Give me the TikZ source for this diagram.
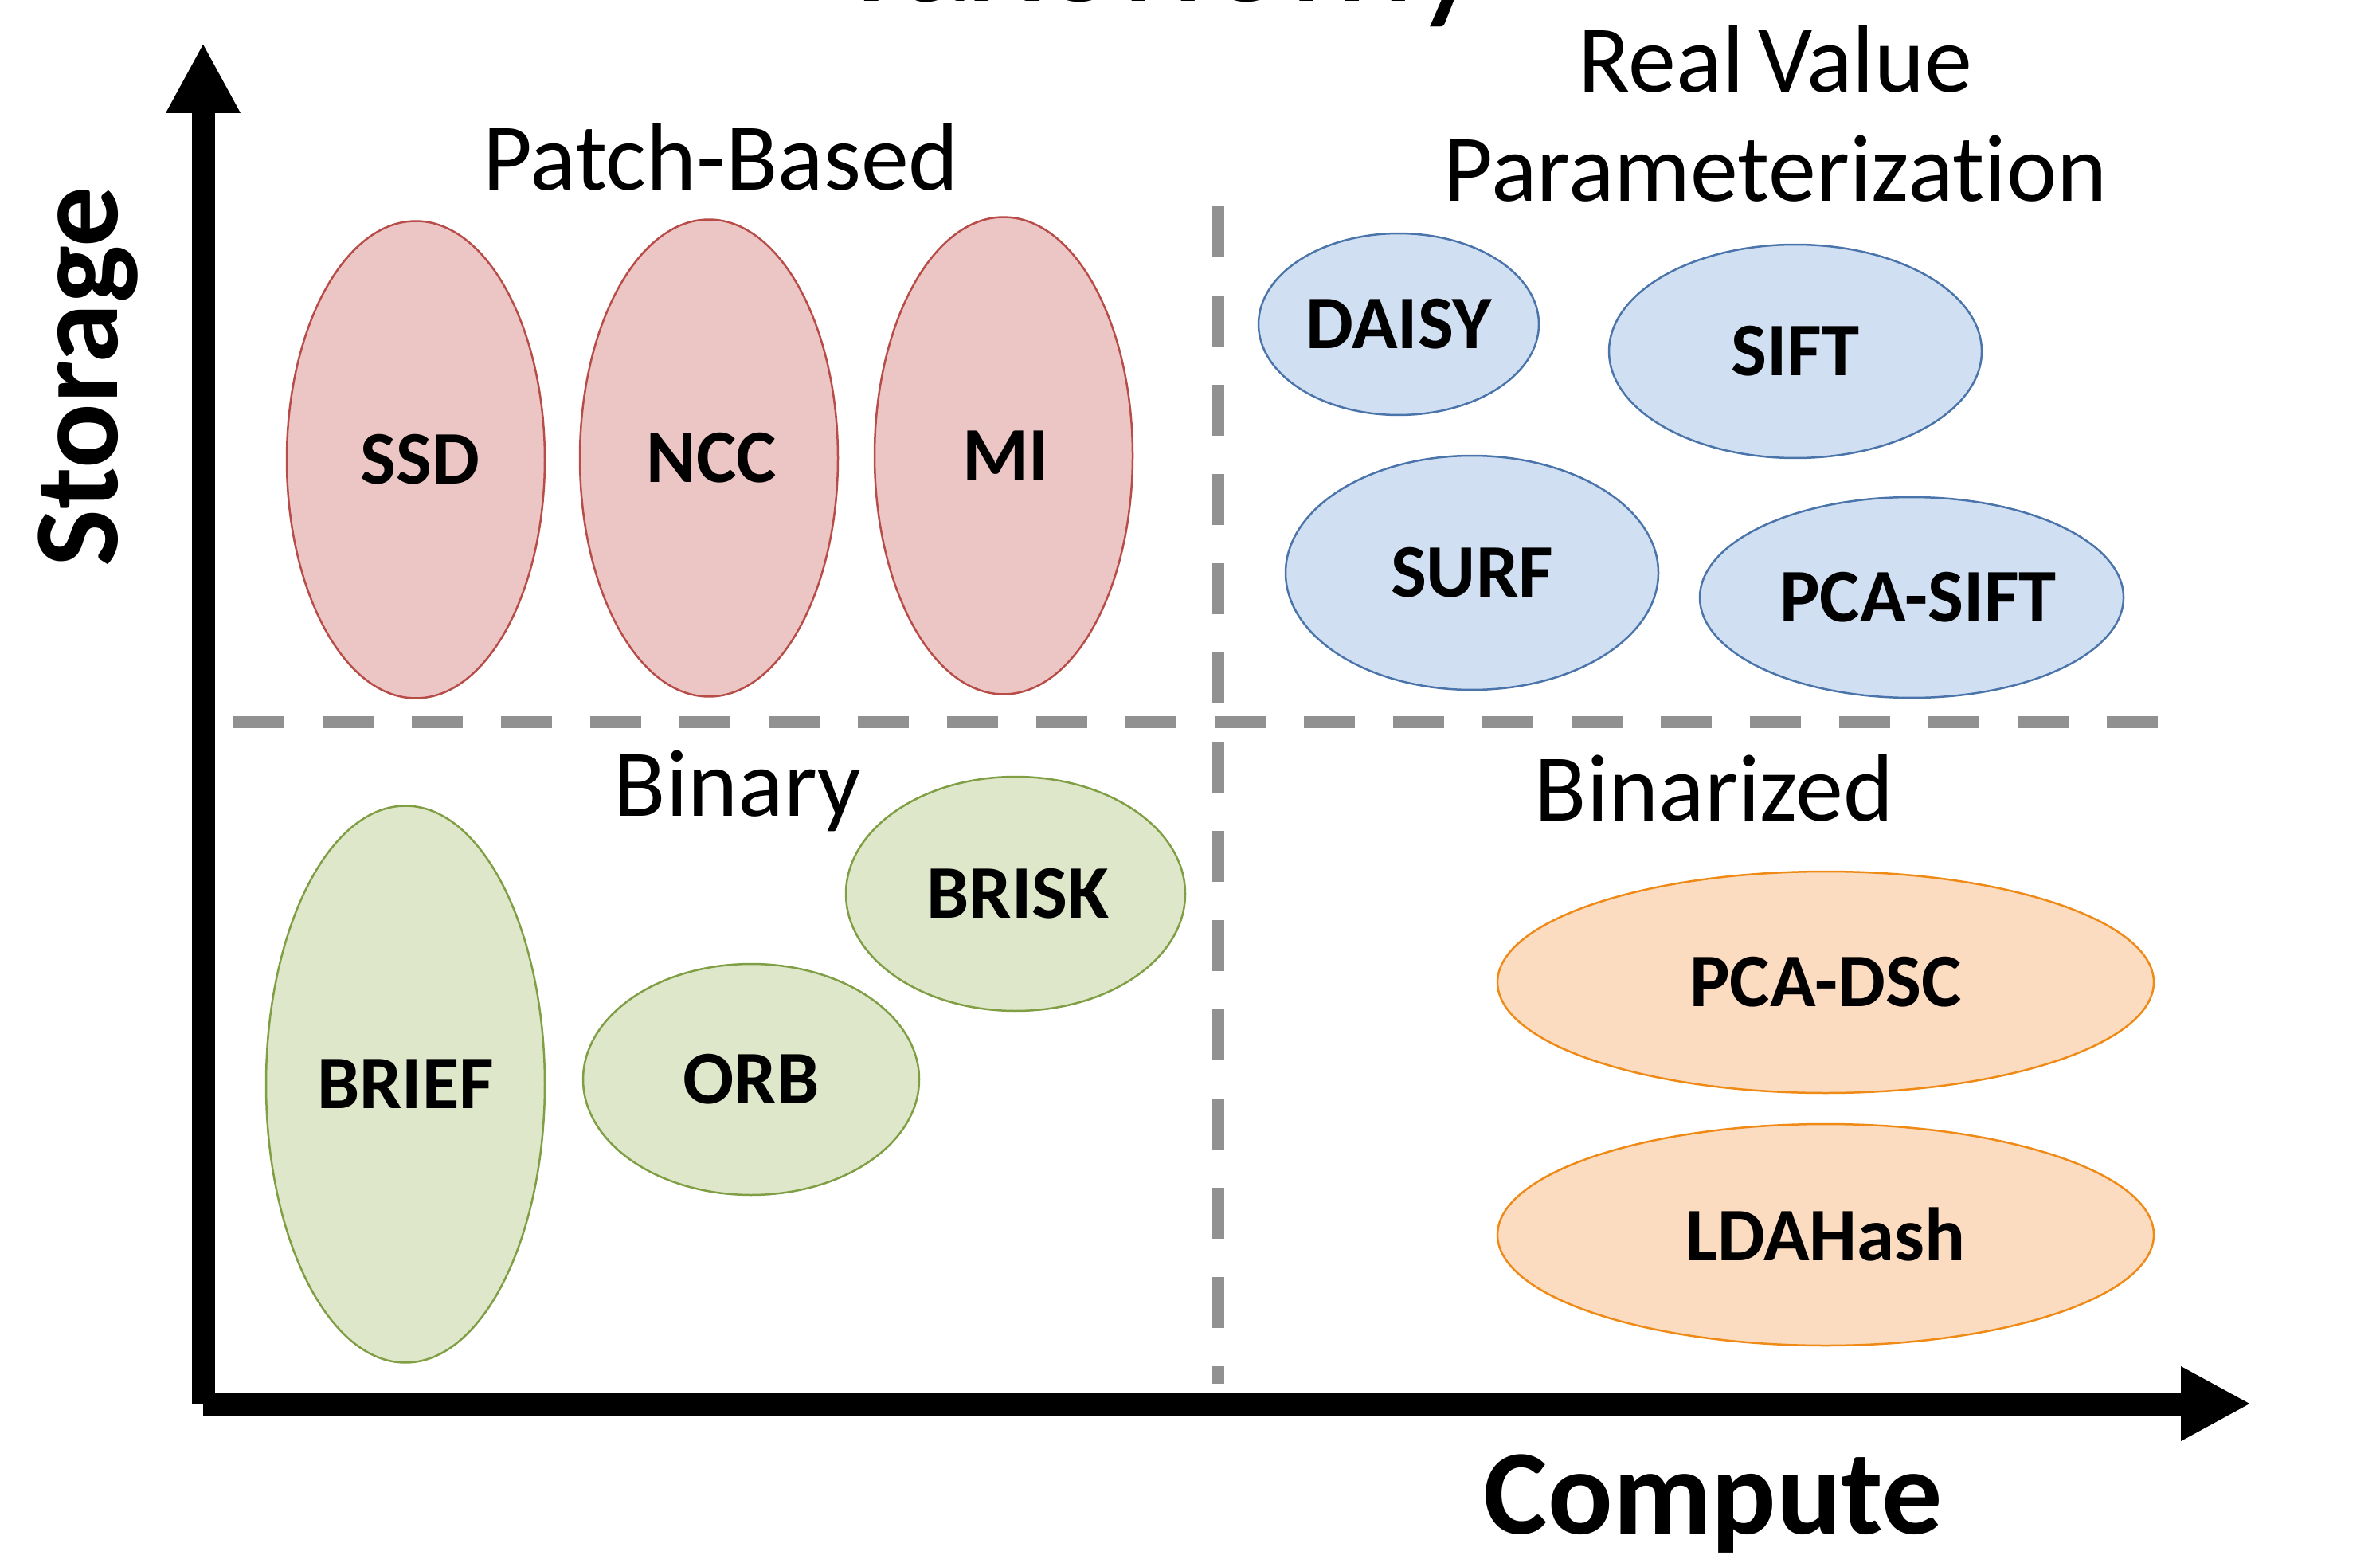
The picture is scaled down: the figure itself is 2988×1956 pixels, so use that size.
\documentclass[tikz,border=0pt]{standalone}
\usepackage{fontspec}
\setmainfont[Ligatures=NoCommon]{Carlito}
\usetikzlibrary{shapes.geometric,arrows.meta}

\definecolor{pinkfill}{RGB}{236,198,197}
\definecolor{pinkline}{RGB}{184,76,72}
\definecolor{bluefill}{RGB}{208,224,242}
\definecolor{blueline}{RGB}{74,116,170}
\definecolor{greenfill}{RGB}{222,231,201}
\definecolor{greenline}{RGB}{128,158,68}
\definecolor{orangefill}{RGB}{251,220,193}
\definecolor{orangeline}{RGB}{240,138,22}
\definecolor{divgray}{RGB}{145,145,145}

\begin{document}
\begin{tikzpicture}[x=0.1pt,y=-0.1pt,
  blob/.style={ellipse, inner sep=0pt, line width=0.25pt,
    font=\fontsize{9.5pt}{11pt}\selectfont\bfseries},
  patch/.style={blob, fill=pinkfill, draw=pinkline},
  realval/.style={blob, fill=bluefill, draw=blueline},
  binary/.style={blob, fill=greenfill, draw=greenline},
  binarized/.style={blob, fill=orangefill, draw=orangeline},
  heading/.style={font=\fontsize{12pt}{14pt}\selectfont, anchor=base, inner sep=0pt},
  axislabel/.style={font=\fontsize{15.2pt}{18pt}\selectfont\bfseries, anchor=base, inner sep=0pt},
  axis/.style={line width=2.9pt, -{Triangle[width=8.7pt,length=8.8pt]}},
  axisshadow/.style={axis, draw=black, opacity=0.18},
  divider/.style={draw=divgray, line width=1.55pt, dash pattern=on 6.4pt off 4.8pt}]

\useasboundingbox (0,0) rectangle (2988,1956);
\clip (0,0) rectangle (2988,1956);

% title, mostly above the page edge
\node[font=\fontsize{20pt}{24pt}\selectfont, anchor=base, inner sep=0pt] (title) at (1455,2) {Taxonomy};

% quadrant dividers
\coordinate (hdivL) at (293,906.5);
\coordinate (hdivR) at (2709,906.5);
\coordinate (vdivT) at (1529,259);
\coordinate (vdivB) at (1529,1737);
\draw[divider] (hdivL) -- (hdivR);
\draw[divider] (vdivT) -- (vdivB);

% axes
\coordinate (origin) at (255,1762);
\coordinate (ytip) at (255,54);
\coordinate (xtip) at (2826,1762);
\begin{scope}[shift={(5,6)}]
  \draw[axisshadow] (origin) -- (ytip);
  \draw[axisshadow] (origin) -- (xtip);
\end{scope}
\draw[axis] (origin) -- (ytip);
\draw[axis] (origin) -- (xtip);

\node[axislabel, rotate=90] (storage) at (147,473) {Storage};
\node[axislabel] (compute) at (2151,1925) {Compute};

% quadrant headings
\node[heading] (patchhd) at (905,239) {Patch-Based};
\node[heading] (realhd1) at (2229,116) {Real\hspace{-0.08em} Value};
\node[heading] (realhd2) at (2229,253) {Parameterization};
\node[heading] (binaryhd) at (926,1024) {Binary};
\node[heading] (binzhd) at (2152,1030) {Binarized};

% patch-based descriptors
\node[patch, minimum width=32.4pt, minimum height=59.9pt] (ssd) at (522,577) {\hspace{1pt}SSD};
\node[patch, minimum width=32.4pt, minimum height=59.9pt] (ncc) at (890,575) {\hspace{0.6pt}NCC};
\node[patch, minimum width=32.4pt, minimum height=59.9pt] (mi) at (1260,572) {\hspace{0.6pt}MI};

% real-valued descriptors
\node[realval, minimum width=35.2pt, minimum height=22.8pt] (daisy) at (1756,407) {DAISY};
\node[realval, minimum width=46.8pt, minimum height=26.8pt] (sift) at (2254,441) {SIFT};
\node[realval, minimum width=46.8pt, minimum height=29.4pt] (surf) at (1848,719) {SURF};
\node[realval, minimum width=53.2pt, minimum height=25.2pt] (pcasift) at (2400,750) {\hspace{1.6pt}PCA-SIFT};

% binary descriptors
\node[binary, minimum width=35.0pt, minimum height=69.9pt] (brief) at (509,1361) {BRIEF};
\node[binary, minimum width=42.2pt, minimum height=29.0pt] (orb) at (943,1355) {ORB};
\node[binary, minimum width=42.6pt, minimum height=29.4pt] (brisk) at (1275,1122) {\hspace{0.6pt}BRISK};

% binarized descriptors
\node[binarized, minimum width=82.4pt, minimum height=27.8pt] (pcadsc) at (2292,1233) {PCA-DSC};
\node[binarized, minimum width=82.4pt, minimum height=27.8pt] (ldahash) at (2292,1550) {LDAHash};
\end{tikzpicture}
\end{document}
